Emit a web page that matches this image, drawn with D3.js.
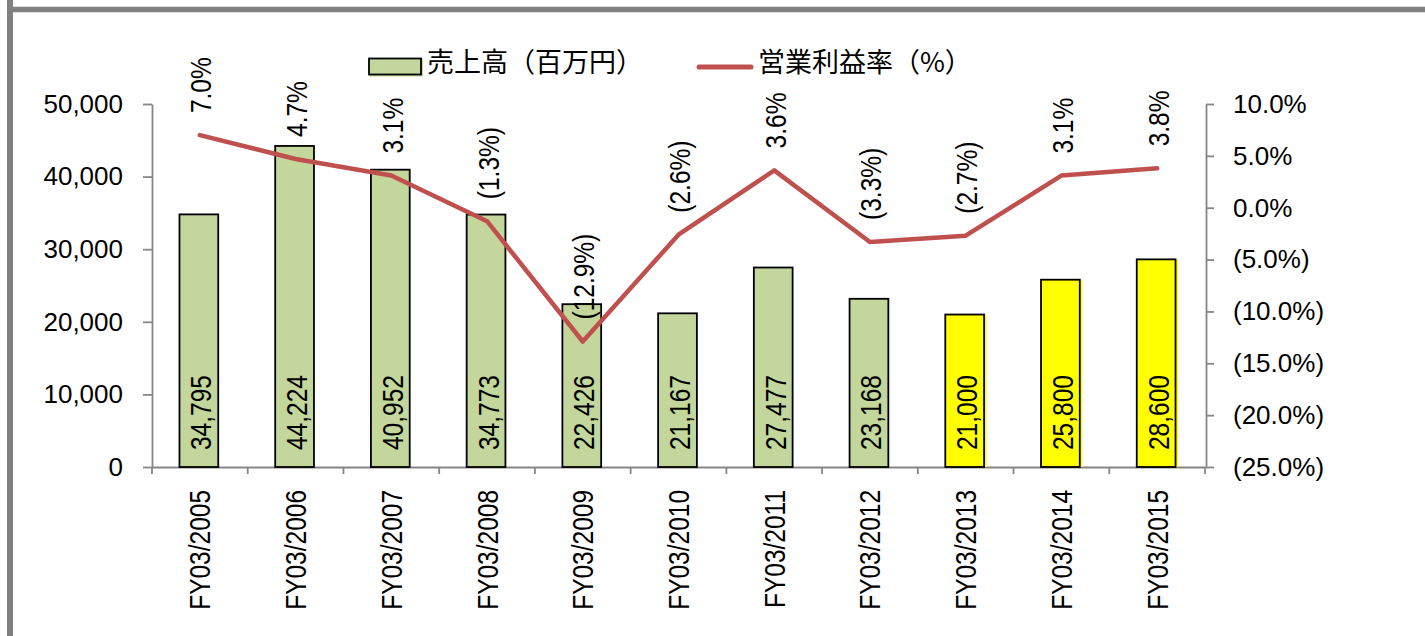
<!DOCTYPE html>
<html>
<head>
<meta charset="utf-8">
<script src="https://cdn.jsdelivr.net/npm/d3@7"></script>
<style>
  html, body { margin: 0; padding: 0; background: #ffffff; }
  svg { display: block; }
  .lbl { font-family: "Liberation Sans", Arial, sans-serif; fill: #000; }
  .leg { font-family: "Noto Sans CJK JP", sans-serif; fill: #000; }
</style>
</head>
<body>
<svg id="chart" width="1425" height="636"></svg>
<script>
// ---- data ----
const categories = ["FY03/2005","FY03/2006","FY03/2007","FY03/2008","FY03/2009","FY03/2010","FY03/2011","FY03/2012","FY03/2013","FY03/2014","FY03/2015"];
const sales = [34795, 44224, 40952, 34773, 22426, 21167, 27477, 23168, 21000, 25800, 28600];
const opMargin = [7.0, 4.7, 3.1, -1.3, -12.9, -2.6, 3.6, -3.3, -2.7, 3.1, 3.8];
const isForecast = [false, false, false, false, false, false, false, false, true, true, true];
const leftTicks = [0, 10000, 20000, 30000, 40000, 50000];
const rightTicks = [-25, -20, -15, -10, -5, 0, 5, 10];
const legendLabels = ["売上高（百万円）", "営業利益率（%）"];

// ---- layout ----
const svg = d3.select("#chart");
const axisColor = "#868686";
const x = d3.scaleBand().domain(categories).range([152, 1205]).padding(0);
const yL = d3.scaleLinear().domain([0, 50000]).range([467, 104]);
const yR = d3.scaleLinear().domain([-25, 10]).range([467, 104]);
const bw = x.bandwidth();
const barW = bw * 0.405;
const cx = c => x(c) + bw / 2;
const pctFmt = v => (v < 0 ? "(" + d3.format(".1f")(-v) + "%)" : d3.format(".1f")(v) + "%");
const ROT = "rotate(-90) scale(1,1.22)";

// frame
svg.append("line").attr("x1", 10).attr("x2", 10).attr("y1", 0).attr("y2", 636)
  .attr("stroke", "#808080").attr("stroke-width", 6);
svg.append("line").attr("x1", 7).attr("x2", 1425).attr("y1", 9.5).attr("y2", 9.5)
  .attr("stroke", "#808080").attr("stroke-width", 5.5);

// left axis
const gL = svg.append("g").attr("transform", "translate(152,0)")
  .call(d3.axisLeft(yL).tickValues(leftTicks).tickSize(9).tickSizeOuter(0).tickPadding(20).tickFormat(d3.format(",")));
// right axis
const gR = svg.append("g").attr("transform", "translate(1206,0)")
  .call(d3.axisRight(yR).tickValues(rightTicks).tickSize(8).tickSizeOuter(0).tickPadding(19).tickFormat(pctFmt));
[gL, gR].forEach(g => {
  g.select(".domain").attr("stroke", axisColor).attr("stroke-width", 1.8);
  g.selectAll(".tick line").attr("stroke", axisColor).attr("stroke-width", 1.8);
  g.selectAll(".tick text").attr("class", "lbl").style("font-size", "26px")
    .attr("font-family", null).attr("font-size", null);
});

// x axis
const gX = svg.append("g").attr("transform", "translate(0,467)")
  .call(d3.axisBottom(x).tickSize(0).tickSizeOuter(0));
gX.select(".domain").attr("stroke", axisColor).attr("stroke-width", 1.8);
gX.selectAll(".tick text")
  .attr("class", "lbl").attr("font-family", null).attr("font-size", null)
  .style("font-size", "24.5px")
  .attr("text-anchor", "end")
  .attr("transform", ROT)
  .attr("x", -23).attr("y", 0).attr("dy", "0.35em");
const bounds = categories.map(c => x(c)).concat([x(categories[categories.length - 1]) + bw]);
svg.append("g").selectAll("line").data(bounds).join("line")
  .attr("x1", d => d).attr("x2", d => d).attr("y1", 467).attr("y2", 474)
  .attr("stroke", axisColor).attr("stroke-width", 1.8);

// bars
const bars = svg.append("g");
categories.forEach((c, i) => {
  const bx = cx(c) - barW / 2 - 1;
  const by = yL(sales[i]);
  const bh = yL(0) - by;
  if (isForecast[i]) {
    bars.append("rect").attr("x", bx).attr("y", by).attr("width", barW + 2.5).attr("height", bh)
      .attr("fill", "#FFFF00");
    bars.append("rect").attr("x", bx).attr("y", by).attr("width", barW).attr("height", bh)
      .attr("fill", "none").attr("stroke", "#000").attr("stroke-width", 1.8);
  } else {
    bars.append("rect").attr("x", bx).attr("y", by).attr("width", barW).attr("height", bh)
      .attr("fill", "#C3D69B").attr("stroke", "#000").attr("stroke-width", 1.8);
  }
});

// bar value labels
svg.append("g").selectAll("text").data(categories).join("text")
  .attr("class", "lbl").style("font-size", "24.5px")
  .attr("transform", c => "translate(" + (cx(c) + 1) + ",450) " + ROT)
  .attr("text-anchor", "start").attr("dy", "0.35em")
  .text((c, i) => d3.format(",")(sales[i]));

// percent labels
svg.append("g").selectAll("text").data(categories).join("text")
  .attr("class", "lbl").style("font-size", "24.5px")
  .attr("transform", (c, i) => "translate(" + (cx(c) + 1) + "," + (yR(opMargin[i]) - 22) + ") " + ROT)
  .attr("text-anchor", "start").attr("dy", "0.35em")
  .text((c, i) => pctFmt(opMargin[i]));

// line
const line = d3.line().x((d, i) => cx(categories[i])).y(d => yR(d));
svg.append("path").datum(opMargin).attr("d", line)
  .attr("fill", "none").attr("stroke", "#C0504D").attr("stroke-width", 4.5)
  .attr("stroke-linejoin", "round").attr("stroke-linecap", "round");

// legend
const lg = svg.append("g");
lg.append("rect").attr("x", 369).attr("y", 58.5).attr("width", 54).attr("height", 18).attr("fill", "#C3D69B");
lg.append("rect").attr("x", 369).attr("y", 58.5).attr("width", 52).attr("height", 16)
  .attr("fill", "none").attr("stroke", "#000").attr("stroke-width", 1.8);
lg.append("text").attr("class", "leg").style("font-size", "27px")
  .attr("x", 427).attr("y", 72).text(legendLabels[0]);
lg.append("line").attr("x1", 699).attr("x2", 751).attr("y1", 67).attr("y2", 67)
  .attr("stroke", "#C0504D").attr("stroke-width", 5).attr("stroke-linecap", "round");
lg.append("text").attr("class", "leg").style("font-size", "27px")
  .attr("x", 758).attr("y", 72).text(legendLabels[1]);
</script>
</body>
</html>
